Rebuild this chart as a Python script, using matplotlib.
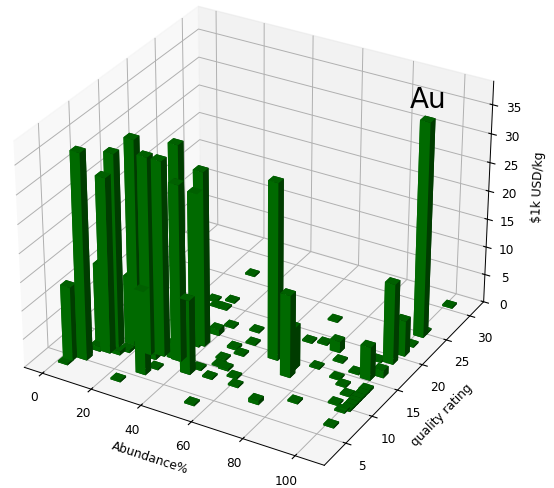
import numpy as np
import matplotlib
matplotlib.use("Agg")
import matplotlib.pyplot as plt

plt.rcParams["font.size"] = 8.7
plt.rcParams["grid.linewidth"] = 0.7
plt.rcParams["axes.linewidth"] = 0.7

# abundance %, quality rating, price per kg (in $1k)
abundance = [29.2, 32.3, 26.2, 29.2, 32.3, 40.6, 38.5, 49.9, 52.9, 48.8, 52.9, 48.8, 52.9, 49.9, 58.1, 50.9, 61.2, 44.7, 54.0, 72.5,
             83.8, 70.5, 69.4, 74.6, 80.7, 84.9, 79.7, 89.0, 93.1, 97.2, 96.2, 101.4, 101.4, 101.4, 101.4, 101.4, 100.3, 98.2, 93.1, 96.2,
             101.4, 100.3, 101.4, 101.4, 101.4, 101.4, 73.5, 72.5, 64.4, 2.7, 6.9, 11.5, 12.0, 16.2, 6.3, 7.4, 24.4, 29.0, 28.2, 35.7,
             36.3, 37.8, 16.0, 29.5, 42.7, 4.8, 33.7, 27.5, 2.8, 24.4, 31.6, 5.9, 7.9, 12.0, 17.2, 15.1,
             101.4, 101.4, 101.4]
quality = [26.4, 21.1, 20.4, 19.6, 19.6, 17.1, 15.3, 17.6, 15.5, 13.9, 13.3, 11.8, 10.4, 10.6, 9.6, 8.4, 8.4, 9.2, 3.8, 6.9,
           8.8, 23.0, 18.5, 18.9, 18.4, 16.9, 14.9, 14.2, 13.4, 12.2, 10.4, 7.0, 30.8, 13.7, 12.1, 10.8, 9.6, 15.6, 15.9, 18.8,
           16.6, 19.1, 20.9, 22.7, 24.7, 25.4, 12.3, 13.7, 14.3, 4.7, 5.4, 7.5, 8.8, 10.5, 8.8, 9.4, 9.2, 9.6, 12.9, 9.6,
           12.6, 13.0, 9.9, 6.0, 8.1, 10.2, 9.7, 8.7, 3.8, 3.8, 7.3, 5.8, 7.3, 7.8, 8.5, 7.7,
           12.9, 11.4, 10.1]
price = [0.3, 0.3, 0.3, 0.3, 0.3, 0.3, 1.1, 0.3, 0.3, 0.4, 0.3, 0.3, 0.4, 0.3, 0.3, 0.3, 0.3, 0.3, 0.3, 0.7,
         0.3, 0.3, 0.3, 0.3, 2.0, 0.3, 0.3, 0.3, 0.3, 0.3, 0.3, 0.3, 0.3, 0.4, 0.3, 0.3, 0.3, 5.9, 0.3, 0.3,
         1.3, 14.2, 6.3, 0.3, 37.6, 0.3, 14.5, 7.5, 31.0, 13.0, 36.0, 30.7, 33.8, 35.4, 13.8, 14.0, 34.4, 34.0, 34.1, 30.8,
         27.0, 30.6, 12.0, 14.7, 13.1, 1.5, 2.7, 0.9, 0.3, 0.3, 0.3, 1.3, 0.9, 1.3, 0.5, 0.7,
         0.3, 0.3, 0.3]

fig = plt.figure(figsize=(5.54, 4.88), dpi=100)
s = 534
cx, cy = 251, 232
ax = fig.add_axes([(cx - s / 2) / 554, (488 - cy - s / 2) / 488, s / 554, s / 488], projection="3d")

dx, dy = 4.0, 1.0
x = np.array(abundance) - dx / 2
y = np.array(quality) - dy / 2

# faces: bottom, top, -y, +y, -x, +x
face_cols = ["#003c00", "#006000", "#006a00", "#003c00", "#006a00", "#003c00"] * len(x)
ax.bar3d(x, y, 0, dx, dy, price, color=face_cols, shade=False)

ax.set_xlim(-7.5, 111)
ax.set_ylim(1, 33)
ax.set_zlim(0, 39)
ax.set_xticks([0, 20, 40, 60, 80, 100])
ax.set_yticks([5, 10, 15, 20, 25, 30])
ax.set_zticks([0, 5, 10, 15, 20, 25, 30, 35])
ax.tick_params(axis="x", pad=1.5)
ax.tick_params(axis="y", pad=2.5)
ax.tick_params(axis="z", pad=1)
ax.set_xlabel("Abundance%", labelpad=1)
ax.set_ylabel("quality rating", labelpad=2)
ax.set_zlabel("$1k USD/kg", labelpad=1)
ax.text(100.7, 25, 39.2, "Au", size=20, ha="center")

fig.savefig("out.png", dpi=100)
